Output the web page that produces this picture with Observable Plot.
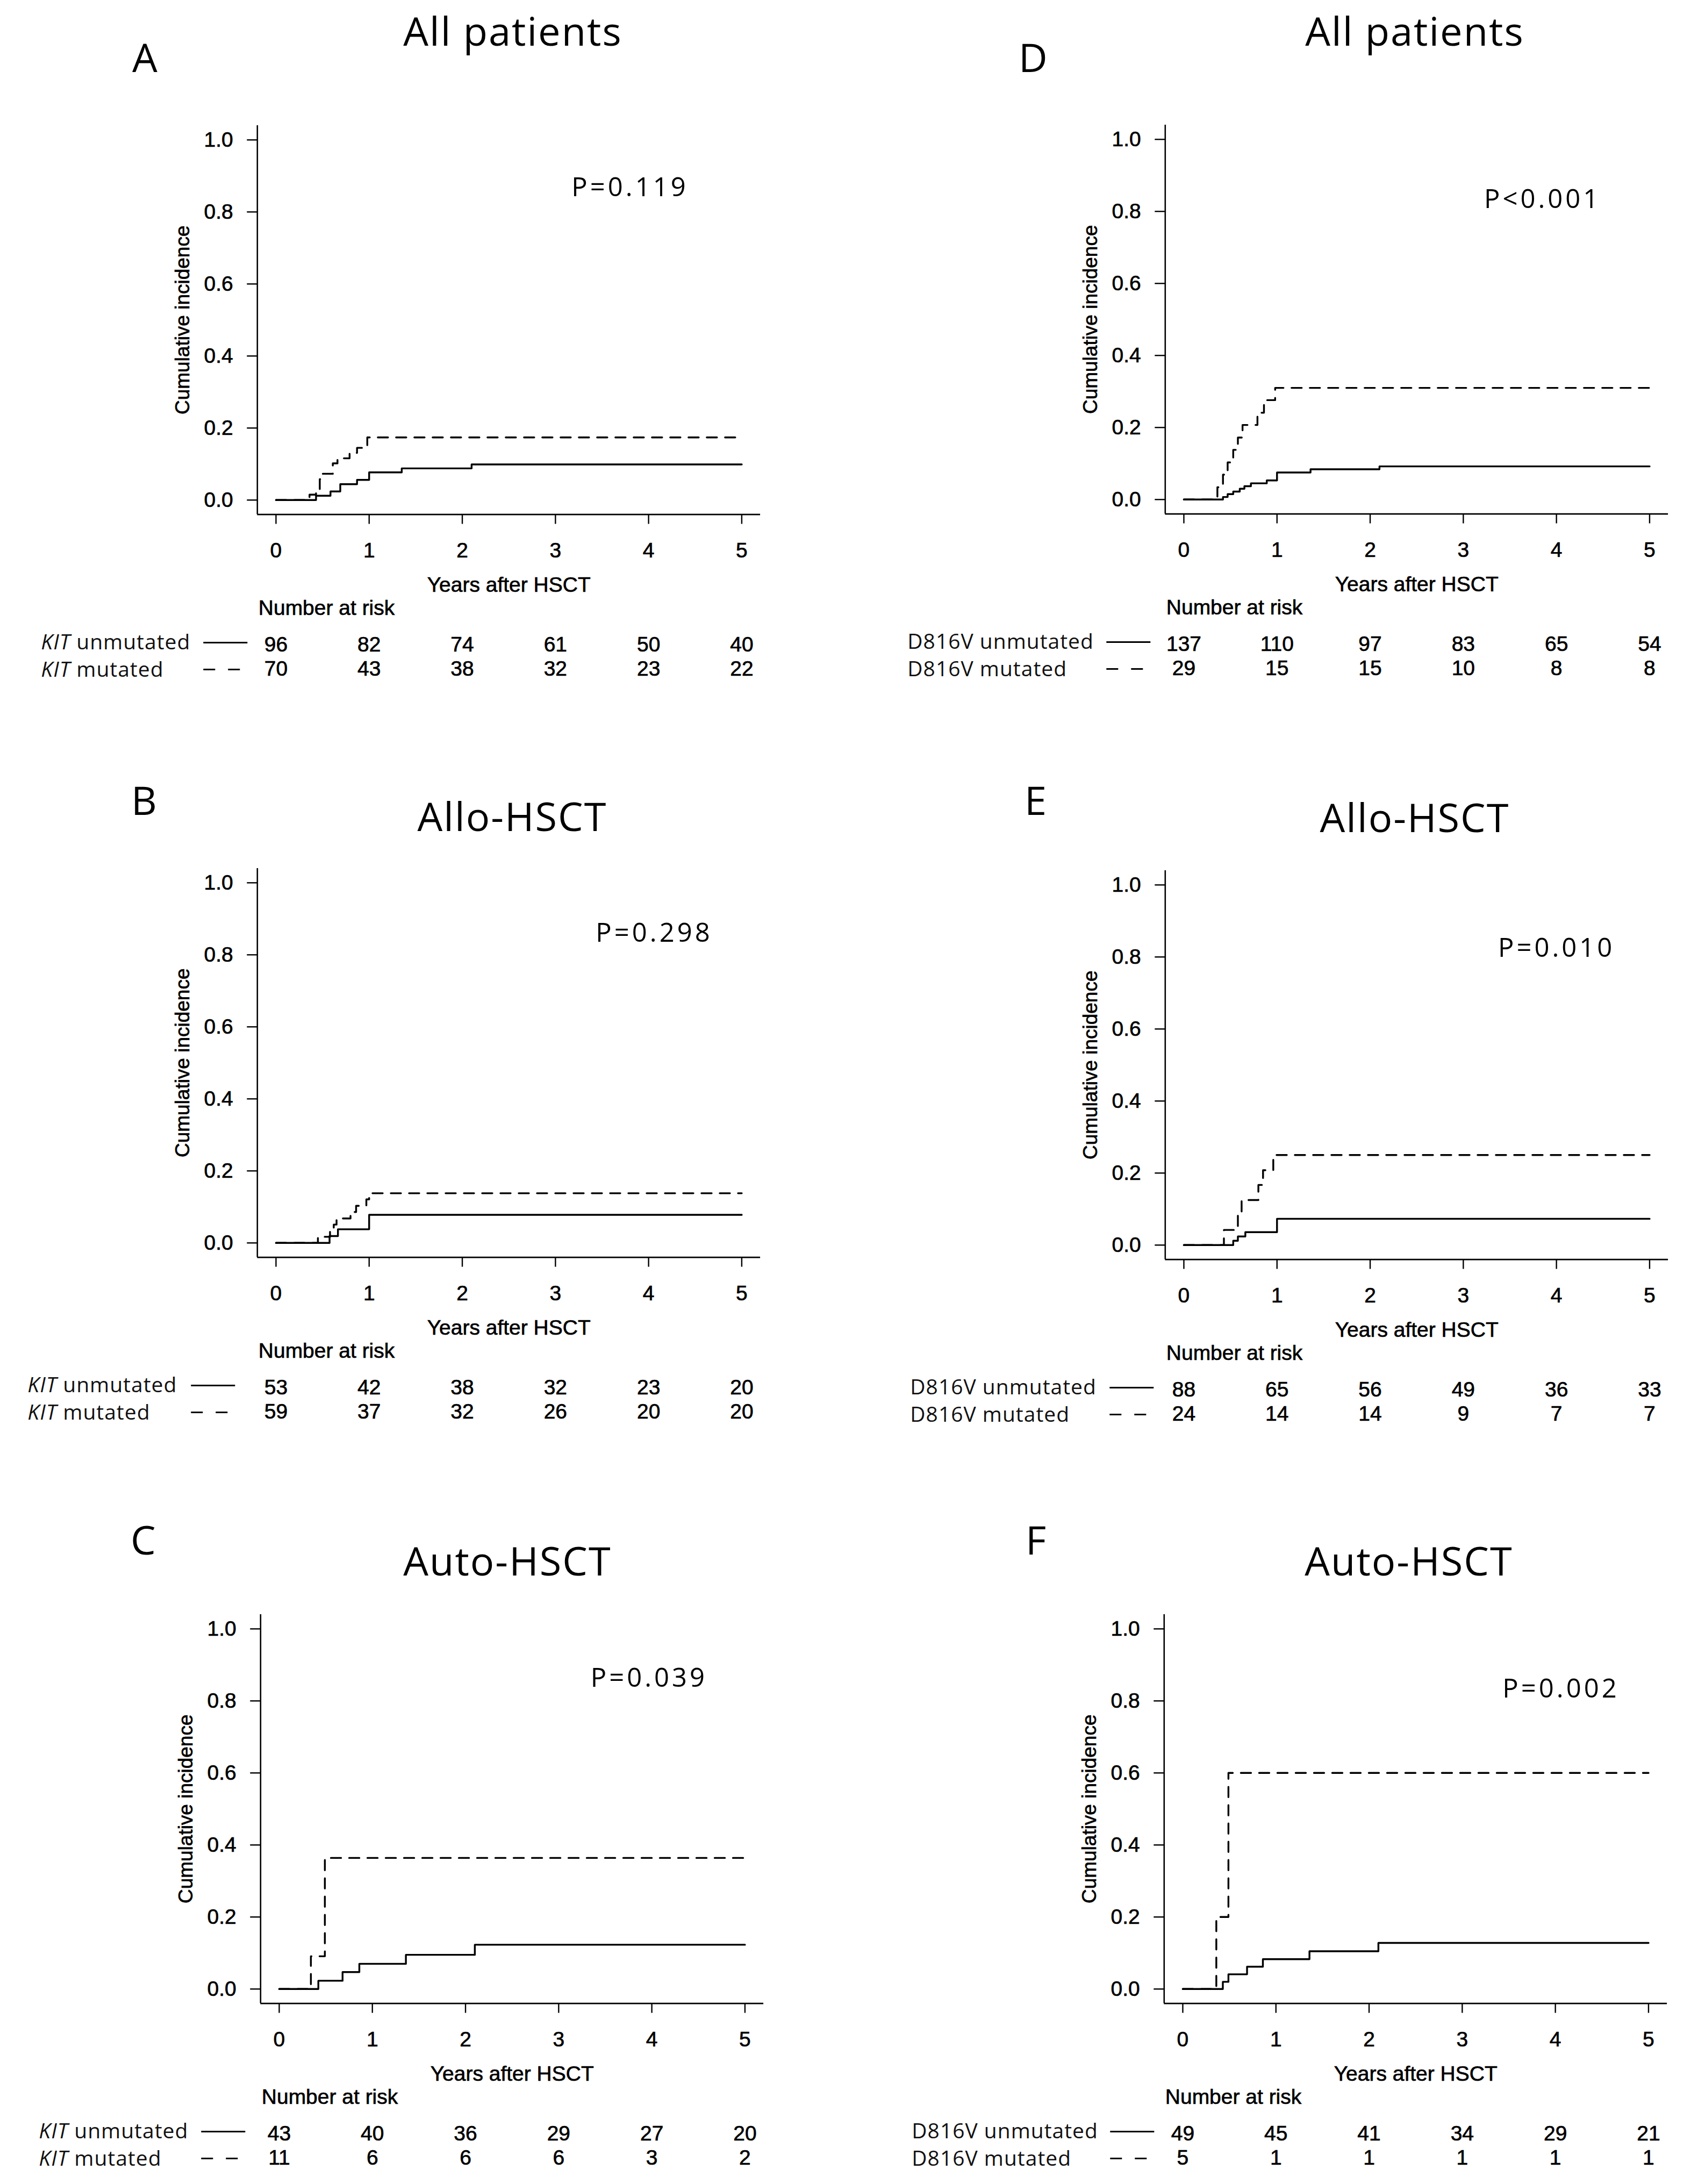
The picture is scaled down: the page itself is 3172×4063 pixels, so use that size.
<!DOCTYPE html>
<html>
<head>
<meta charset="utf-8">
<script src="https://cdn.jsdelivr.net/npm/d3@7"></script>
<script src="https://cdn.jsdelivr.net/npm/@observablehq/plot@0.6"></script>
<style>
  html, body { margin: 0; padding: 0; background: #fff; }
  #page { position: relative; width: 3172px; height: 4063px; background: #fff; overflow: hidden; }
  .ptitle { position: absolute; width: 900px; text-align: center; white-space: nowrap;
            font-family: "Open Sans", "Noto Sans", sans-serif; font-size: 74px; line-height: 74px;
            letter-spacing: 2px; color: #000; }
  .pletter { position: absolute; white-space: nowrap;
             font-family: "Open Sans", "Noto Sans", sans-serif; font-size: 74px; line-height: 74px; color: #000; }
</style>
</head>
<body>
<div id="page"></div>
<script>
// ---------- data ----------
const yearTicks = [0, 1, 2, 3, 4, 5];
const ciTicks = [0, 0.2, 0.4, 0.6, 0.8, 1.0];
const panelLetters = ["A", "B", "C", "D", "E", "F"];
const panelTitles = ["All patients", "Allo-HSCT", "Auto-HSCT", "All patients", "Allo-HSCT", "Auto-HSCT"];
const pValues = ["P=0.119", "P=0.298", "P=0.039", "P<0.001", "P=0.010", "P=0.002"];
const markerNames = ["KIT", "KIT", "KIT", "D816V", "D816V", "D816V"];
const groupNames = ["unmutated", "mutated"];

// cumulative incidence step curves (time in years, incidence)
const timeAUnmut = [0, 0.43, 0.585, 0.69, 0.87, 1.0, 1.35, 2.1, 5];
const ciAUnmut   = [0, 0.012, 0.024, 0.044, 0.056, 0.077, 0.088, 0.099, 0.099];
const timeAMut   = [0, 0.36, 0.43, 0.47, 0.5, 0.61, 0.66, 0.79, 0.87, 0.98, 5];
const ciAMut     = [0, 0.015, 0.029, 0.058, 0.073, 0.102, 0.116, 0.131, 0.145, 0.174, 0.174];

const timeBUnmut = [0, 0.575, 0.665, 1.0, 5];
const ciBUnmut   = [0, 0.019, 0.038, 0.078, 0.078];
const timeBMut   = [0, 0.45, 0.58, 0.62, 0.65, 0.8, 0.86, 0.97, 1.0, 5];
const ciBMut     = [0, 0.017, 0.034, 0.051, 0.068, 0.086, 0.103, 0.121, 0.138, 0.138];

const timeCUnmut = [0, 0.42, 0.68, 0.86, 1.36, 2.1, 5];
const ciCUnmut   = [0, 0.023, 0.047, 0.070, 0.095, 0.123, 0.123];
const timeCMut   = [0, 0.34, 0.49, 5];
const ciCMut     = [0, 0.091, 0.364, 0.364];

const timeDUnmut = [0, 0.42, 0.47, 0.53, 0.6, 0.65, 0.72, 0.89, 1.0, 1.36, 2.1, 5];
const ciDUnmut   = [0, 0.007, 0.015, 0.022, 0.030, 0.037, 0.045, 0.053, 0.075, 0.084, 0.092, 0.092];
const timeDMut   = [0, 0.36, 0.42, 0.47, 0.53, 0.58, 0.63, 0.79, 0.86, 0.98, 5];
const ciDMut     = [0, 0.034, 0.069, 0.103, 0.138, 0.172, 0.207, 0.241, 0.276, 0.31, 0.31];

const timeEUnmut = [0, 0.53, 0.58, 0.66, 1.0, 5];
const ciEUnmut   = [0, 0.012, 0.024, 0.036, 0.073, 0.073];
const timeEMut   = [0, 0.43, 0.58, 0.62, 0.8, 0.85, 0.96, 5];
const ciEMut     = [0, 0.042, 0.083, 0.125, 0.167, 0.208, 0.25, 0.25];

const timeFUnmut = [0, 0.43, 0.49, 0.69, 0.86, 1.36, 2.1, 5];
const ciFUnmut   = [0, 0.02, 0.041, 0.062, 0.083, 0.105, 0.128, 0.128];
const timeFMut   = [0, 0.36, 0.49, 5];
const ciFMut     = [0, 0.2, 0.6, 0.6];

// numbers at risk at years 0..5
const riskAUnmut = [96, 82, 74, 61, 50, 40];
const riskAMut   = [70, 43, 38, 32, 23, 22];
const riskBUnmut = [53, 42, 38, 32, 23, 20];
const riskBMut   = [59, 37, 32, 26, 20, 20];
const riskCUnmut = [43, 40, 36, 29, 27, 20];
const riskCMut   = [11, 6, 6, 6, 3, 2];
const riskDUnmut = [137, 110, 97, 83, 65, 54];
const riskDMut   = [29, 15, 15, 10, 8, 8];
const riskEUnmut = [88, 65, 56, 49, 36, 33];
const riskEMut   = [24, 14, 14, 9, 7, 7];
const riskFUnmut = [49, 45, 41, 34, 29, 21];
const riskFMut   = [5, 1, 1, 1, 1, 1];

const curves = [
  [[timeAUnmut, ciAUnmut], [timeAMut, ciAMut]],
  [[timeBUnmut, ciBUnmut], [timeBMut, ciBMut]],
  [[timeCUnmut, ciCUnmut], [timeCMut, ciCMut]],
  [[timeDUnmut, ciDUnmut], [timeDMut, ciDMut]],
  [[timeEUnmut, ciEUnmut], [timeEMut, ciEMut]],
  [[timeFUnmut, ciFUnmut], [timeFMut, ciFMut]]
];
const risks = [
  [riskAUnmut, riskAMut], [riskBUnmut, riskBMut], [riskCUnmut, riskCMut],
  [riskDUnmut, riskDMut], [riskEUnmut, riskEMut], [riskFUnmut, riskFMut]
];

// ---------- layout (page pixels) ----------
const layout = [
  {colLeft: 0,    frameLeft: 478.3,  frameTop: 233.2,  titleCX: 954,  titleBase: 86,   letterX: 246,  letterBase: 135,  pX: 3.80, pY: 0.843, legendStart: -402, lineStart: -100},
  {colLeft: 0,    frameLeft: 478.3,  frameTop: 1615.2, titleCX: 953,  titleBase: 1547, letterX: 244,  letterBase: 1517, pX: 4.06, pY: 0.837, legendStart: -427, lineStart: -123},
  {colLeft: 0,    frameLeft: 484.3,  frameTop: 3003.2, titleCX: 944,  titleBase: 2932, letterX: 243,  letterBase: 2893, pX: 3.97, pY: 0.839, legendStart: -412, lineStart: -110},
  {colLeft: 1586, frameLeft: 2167.3, frameTop: 232.2,  titleCX: 2632, titleBase: 86,   letterX: 1895, letterBase: 135,  pX: 3.85, pY: 0.810, legendStart: -479, lineStart: -109},
  {colLeft: 1586, frameLeft: 2167.3, frameTop: 1619.2, titleCX: 2632, titleBase: 1549, letterX: 1906, letterBase: 1517, pX: 4.00, pY: 0.800, legendStart: -474, lineStart: -103},
  {colLeft: 1586, frameLeft: 2165.3, frameTop: 3003.2, titleCX: 2621, titleBase: 2932, letterX: 1908, letterBase: 2893, pX: 4.06, pY: 0.810, legendStart: -469, lineStart: -100}
];
const PANEL_W = 1586, FRAME_W = 935.8, FRAME_H = 723.6, M_TOP = 60, M_BOTTOM = 330;
const TITLE_FS = 74, BASE_RATIO = 0.888; // Open Sans baseline offset for line-height = font-size

const page = document.getElementById("page");

function legendMark(i) {
  const L = layout[i];
  return (index, scales, values, dims) => {
    const g = d3.create("svg:g").attr("class", "km-legend");
    const fl = dims.marginLeft;
    const fb = dims.height - dims.marginBottom;
    const rows = [
      {name: groupNames[0], base: 251, lineY: 239, len: 82, dash: null},
      {name: groupNames[1], base: 302, lineY: 289, len: 68, dash: "22,24"}
    ];
    rows.forEach(r => {
      const t = g.append("text")
        .attr("x", fl + L.legendStart).attr("y", fb + r.base)
        .attr("text-anchor", "start")
        .attr("font-family", '"Open Sans", "Noto Sans", sans-serif')
        .attr("font-size", 39)
        .attr("letter-spacing", 1)
        .attr("fill", "#111");
      if (markerNames[i] === "KIT") {
        t.append("tspan").attr("font-style", "italic").text(markerNames[i]);
      } else {
        t.append("tspan").text(markerNames[i]);
      }
      t.append("tspan").text(" " + r.name);
      const ln = g.append("line")
        .attr("x1", fl + L.lineStart).attr("x2", fl + L.lineStart + r.len)
        .attr("y1", fb + r.lineY).attr("y2", fb + r.lineY)
        .attr("stroke", "#000").attr("stroke-width", 3);
      if (r.dash) ln.attr("stroke-dasharray", r.dash);
    });
    return g.node();
  };
}

for (let i = 0; i < 6; i++) {
  const L = layout[i];
  const marginLeft = L.frameLeft - L.colLeft;
  const marginRight = PANEL_W - marginLeft - FRAME_W;
  const height = M_TOP + FRAME_H + M_BOTTOM;

  const unmut = curves[i][0][0].map((t, j) => ({t, ci: curves[i][0][1][j]}));
  const mut = curves[i][1][0].map((t, j) => ({t, ci: curves[i][1][1][j]}));
  const riskRow1 = yearTicks.map((t, j) => ({t, n: risks[i][0][j]}));
  const riskRow2 = yearTicks.map((t, j) => ({t, n: risks[i][1][j]}));

  const svg = Plot.plot({
    width: PANEL_W,
    height,
    marginLeft, marginRight, marginTop: M_TOP, marginBottom: M_BOTTOM,
    x: {domain: [-0.2, 5.2]},
    y: {domain: [-0.04, 1.04]},
    style: {fontFamily: '"Liberation Sans", Arial, sans-serif', fontSize: "39px", color: "#000", background: "transparent", overflow: "visible"},
    marks: [
      Plot.ruleX([-0.2], {stroke: "#000", strokeWidth: 2.6}),
      Plot.ruleY([-0.04], {stroke: "#000", strokeWidth: 2.6}),
      Plot.axisY({ticks: ciTicks, tickFormat: d3.format(".1f"), tickSize: 19, tickPadding: 26, strokeWidth: 2.4, fontSize: 39, label: null}),
      Plot.axisX({ticks: yearTicks, tickFormat: d => String(d), tickSize: 18, tickPadding: 34, strokeWidth: 2.4, fontSize: 39, label: null}),
      Plot.line(unmut, {x: "t", y: "ci", curve: "step-after", stroke: "#000", strokeWidth: 3.4}),
      Plot.line(mut, {x: "t", y: "ci", curve: "step-after", stroke: "#000", strokeWidth: 3.4, strokeDasharray: "19,15"}),
      Plot.text([{label: pValues[i], x: L.pX, y: L.pY}], {x: "x", y: "y", text: "label", lineAnchor: "bottom", textAnchor: "middle", fontFamily: '"Open Sans", "Noto Sans", sans-serif', fontSize: 49}),
      Plot.text(["Cumulative incidence"], {text: d => d, frameAnchor: "left", rotate: -90, dx: -127, lineAnchor: "bottom", textAnchor: "middle", fontSize: 37}),
      Plot.text(["Years after HSCT"], {text: d => d, frameAnchor: "bottom", dy: 144, lineAnchor: "bottom", textAnchor: "middle", fontSize: 39}),
      Plot.text(["Number at risk"], {text: d => d, frameAnchor: "bottom-left", dx: 2, dy: 187, lineAnchor: "bottom", textAnchor: "start", fontSize: 39}),
      Plot.text(riskRow1, {x: "t", text: "n", frameAnchor: "bottom", dy: 255, lineAnchor: "bottom", textAnchor: "middle", fontSize: 39}),
      Plot.text(riskRow2, {x: "t", text: "n", frameAnchor: "bottom", dy: 300, lineAnchor: "bottom", textAnchor: "middle", fontSize: 39}),
      legendMark(i)
    ]
  });
  const sel = d3.select(svg);
  sel.selectAll("text").filter(function () { return /^P[=<]/.test(this.textContent); })
    .attr("letter-spacing", 5);
  // slightly heavier Arial-like text, as in the reference rendering
  sel.selectAll("text").filter(function () {
    return !/^P[=<]/.test(this.textContent) && !this.closest(".km-legend");
  }).attr("stroke", "#000").attr("stroke-width", 0.7).attr("paint-order", "stroke");
  svg.style.position = "absolute";
  svg.style.left = L.colLeft + "px";
  svg.style.top = (L.frameTop - M_TOP) + "px";
  page.appendChild(svg);

  const title = document.createElement("div");
  title.className = "ptitle";
  title.textContent = panelTitles[i];
  title.style.left = (L.titleCX - 450) + "px";
  title.style.top = (L.titleBase - BASE_RATIO * TITLE_FS) + "px";
  page.appendChild(title);

  const letter = document.createElement("div");
  letter.className = "pletter";
  letter.textContent = panelLetters[i];
  letter.style.left = L.letterX + "px";
  letter.style.top = (L.letterBase - BASE_RATIO * TITLE_FS) + "px";
  page.appendChild(letter);
}
</script>
</body>
</html>
